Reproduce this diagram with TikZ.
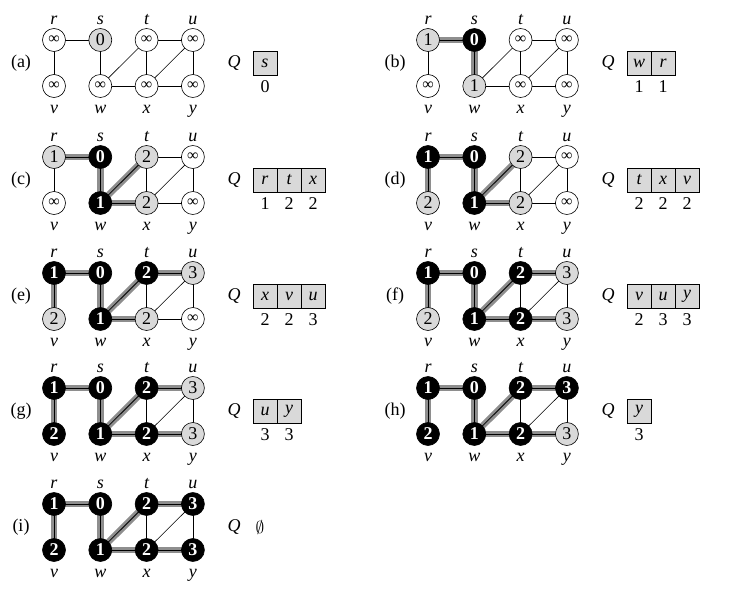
\documentclass[tikz,border=0pt]{standalone}
\usepackage{fontspec}
\setmainfont{Liberation Serif}
\usepackage{tikz}
\usetikzlibrary{positioning, backgrounds}
\definecolor{bfsgray}{HTML}{D9D9D9}
\definecolor{bfsband}{HTML}{8E8E8E}

\newcommand{\infy}{{\fontsize{16}{17}\selectfont ∞}}

% one graph of the run: id, x, y, tag, vertices, tree edges
\newcommand{\bfsgraph}[6]{%
  \begin{scope}[shift={(#2,#3)}]
    \node[paneltag] (#1-tag) at (-33,-23) {#4};
    \foreach \nm/\cx/\cy/\st/\val in {#5}
      \node[\st] (#1-\nm) at (\cx*46.3,-\cy*46) {\val};
    \foreach \nm in {r,s,t,u}
      \node[lbl, above=1pt of #1-\nm] (#1-\nm-lbl) {\nm};
    \foreach \nm in {v,w,x,y}
      \node[lbl, below=6pt of #1-\nm] (#1-\nm-lbl) {\nm};
    \begin{scope}[on background layer]
      \foreach \a/\b in {r/s,r/v,s/w,w/t,w/x,t/x,t/u,x/u,u/y,x/y}
        \draw[plain] (#1-\a.center) -- (#1-\b.center);
      \if\relax\detokenize{#6}\relax\else
        \foreach \a/\b in {#6}
          \draw[treeedge] (#1-\a.center) -- (#1-\b.center);
      \fi
    \end{scope}
  \end{scope}}

% the queue beside it: id, x of Q, y, cells
\newcommand{\bfsqueue}[4]{%
  \node[qname] (#1-Q) at (#2,#3) {Q};
  \foreach \c/\k [count=\m] in {#4} {
    \node[qcell] (#1-q\m) at ({#2+31+24*(\m-1)},#3) {\c};
    \node[qkey, below=5pt of #1-q\m] (#1-k\m) {\k};
  }}

\begin{document}
\begin{tikzpicture}[x=1pt, y=1pt, font=\fontsize{18}{20}\selectfont,
    vtx/.style={circle, draw, line width=0.6pt, minimum size=23pt, inner sep=0pt},
    vw/.style={vtx, fill=white},
    vg/.style={vtx, fill=bfsgray},
    vb/.style={vtx, fill=black, text=white, font=\fontsize{18}{20}\selectfont\bfseries},
    lbl/.style={font=\fontsize{18}{20}\selectfont\itshape, inner sep=0pt, text height=9pt, text depth=3pt},
    plain/.style={line width=0.6pt},
    treeedge/.style={draw=bfsband, line width=6.5pt, postaction={draw=black, line width=0.8pt}},
    paneltag/.style={},
    qname/.style={font=\fontsize{18}{20}\selectfont\itshape},
    qcell/.style={draw, line width=0.6pt, fill=bfsgray, minimum width=24pt, minimum height=24pt,
                  inner sep=0pt, font=\fontsize{18}{20}\selectfont\itshape},
    qkey/.style={inner sep=0pt},
]
    \useasboundingbox (0,0) rectangle (729,-589);

    % (a)
    \bfsgraph{a}{54}{-40}{(a)}{r/0/0/vw/\infy, s/1/0/vg/0, t/2/0/vw/\infy, u/3/0/vw/\infy,
        v/0/1/vw/\infy, w/1/1/vw/\infy, x/2/1/vw/\infy, y/3/1/vw/\infy}{}
    \bfsqueue{a}{234}{-63}{s/0}

    % (b)
    \bfsgraph{b}{428}{-40}{(b)}{r/0/0/vg/1, s/1/0/vb/0, t/2/0/vw/\infy, u/3/0/vw/\infy,
        v/0/1/vw/\infy, w/1/1/vg/1, x/2/1/vw/\infy, y/3/1/vw/\infy}{r/s, s/w}
    \bfsqueue{b}{608}{-63}{w/1, r/1}

    % (c)
    \bfsgraph{c}{54}{-157}{(c)}{r/0/0/vg/1, s/1/0/vb/0, t/2/0/vg/2, u/3/0/vw/\infy,
        v/0/1/vw/\infy, w/1/1/vb/1, x/2/1/vg/2, y/3/1/vw/\infy}{r/s, s/w, w/t, w/x}
    \bfsqueue{c}{234}{-180}{r/1, t/2, x/2}

    % (d)
    \bfsgraph{d}{428}{-157}{(d)}{r/0/0/vb/1, s/1/0/vb/0, t/2/0/vg/2, u/3/0/vw/\infy,
        v/0/1/vg/2, w/1/1/vb/1, x/2/1/vg/2, y/3/1/vw/\infy}{r/s, r/v, s/w, w/t, w/x}
    \bfsqueue{d}{608}{-180}{t/2, x/2, v/2}

    % (e)
    \bfsgraph{e}{54}{-273}{(e)}{r/0/0/vb/1, s/1/0/vb/0, t/2/0/vb/2, u/3/0/vg/3,
        v/0/1/vg/2, w/1/1/vb/1, x/2/1/vg/2, y/3/1/vw/\infy}{r/s, r/v, s/w, w/t, w/x, t/u}
    \bfsqueue{e}{234}{-296}{x/2, v/2, u/3}

    % (f)
    \bfsgraph{f}{428}{-273}{(f)}{r/0/0/vb/1, s/1/0/vb/0, t/2/0/vb/2, u/3/0/vg/3,
        v/0/1/vg/2, w/1/1/vb/1, x/2/1/vb/2, y/3/1/vg/3}{r/s, r/v, s/w, w/t, w/x, t/u, x/y}
    \bfsqueue{f}{608}{-296}{v/2, u/3, y/3}

    % (g)
    \bfsgraph{g}{54}{-388}{(g)}{r/0/0/vb/1, s/1/0/vb/0, t/2/0/vb/2, u/3/0/vg/3,
        v/0/1/vb/2, w/1/1/vb/1, x/2/1/vb/2, y/3/1/vg/3}{r/s, r/v, s/w, w/t, w/x, t/u, x/y}
    \bfsqueue{g}{234}{-411}{u/3, y/3}

    % (h)
    \bfsgraph{h}{428}{-388}{(h)}{r/0/0/vb/1, s/1/0/vb/0, t/2/0/vb/2, u/3/0/vb/3,
        v/0/1/vb/2, w/1/1/vb/1, x/2/1/vb/2, y/3/1/vg/3}{r/s, r/v, s/w, w/t, w/x, t/u, x/y}
    \bfsqueue{h}{608}{-411}{y/3}

    % (i)
    \bfsgraph{i}{54}{-504}{(i)}{r/0/0/vb/1, s/1/0/vb/0, t/2/0/vb/2, u/3/0/vb/3,
        v/0/1/vb/2, w/1/1/vb/1, x/2/1/vb/2, y/3/1/vb/3}{r/s, r/v, s/w, w/t, w/x, t/u, x/y}
    \node[qname] (i-Q) at (234,-527) {Q};
    \node[right=8pt of i-Q] (i-empty) {$\emptyset$};
\end{tikzpicture}
\end{document}
